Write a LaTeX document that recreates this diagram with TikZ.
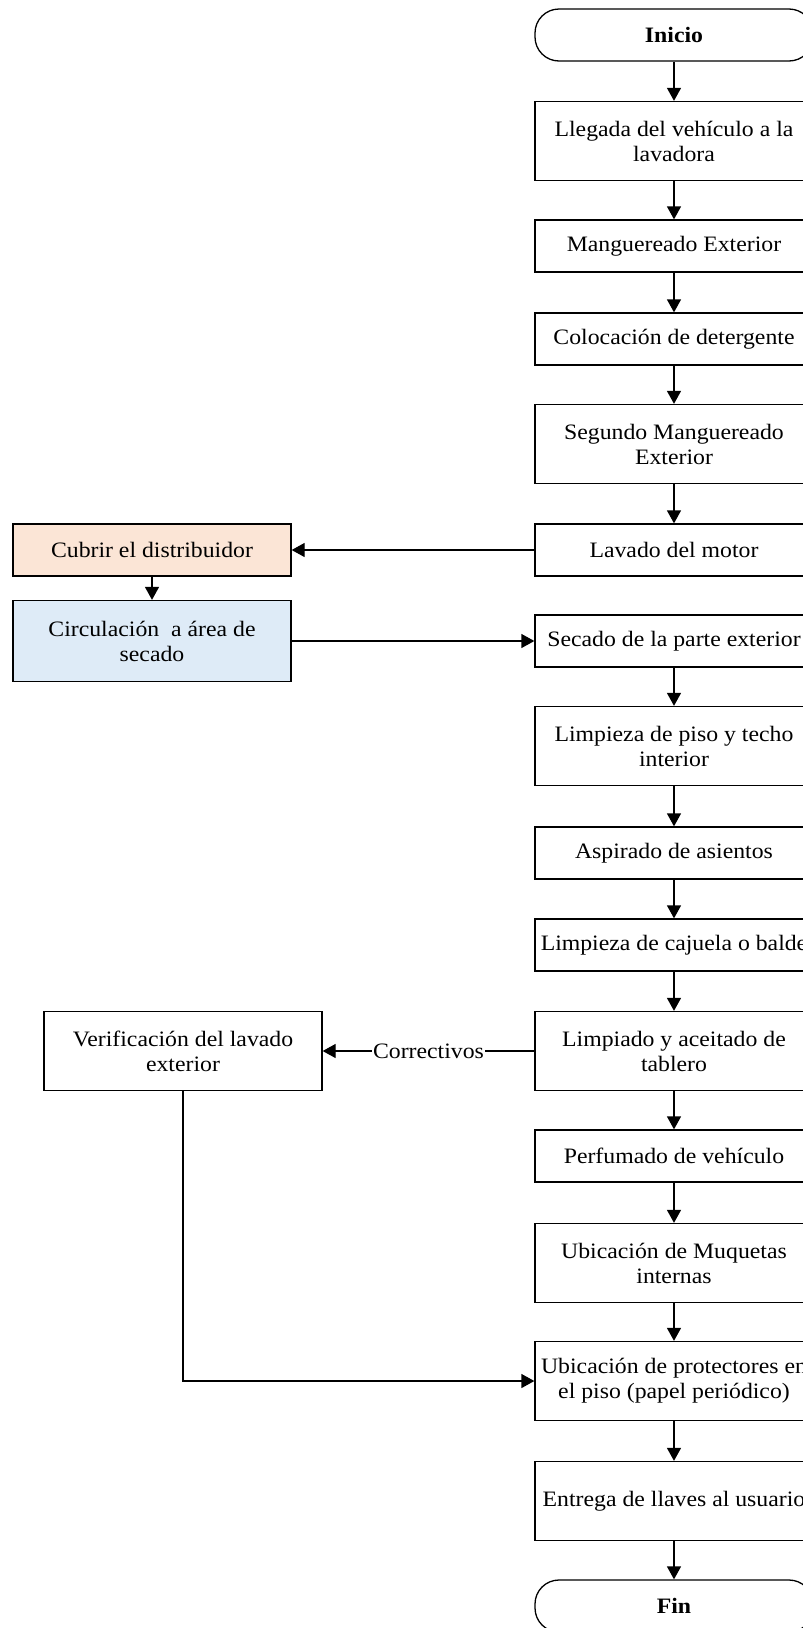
\documentclass[tikz,border=0pt]{standalone}
\usepackage{fontspec}
\setmainfont{Liberation Serif}[FakeStretch=1.08]
\usetikzlibrary{arrows.meta}

\definecolor{peach}{HTML}{FBE5D6}
\definecolor{paleblue}{HTML}{DEEBF7}

\begin{document}
\begin{tikzpicture}[x=1pt, y=-1pt,
    box/.style={draw, line width=1.3pt, minimum width=278pt, align=center,
        inner sep=2pt, font=\fontsize{22}{25}\selectfont},
    onebox/.style={box, minimum height=52pt},
    twobox/.style={box, minimum height=79pt},
    term/.style={onebox, rounded corners=24pt,
        font=\fontsize{22}{25}\selectfont\bfseries},
    flow/.style={line width=1.3pt, -{Triangle[length=13pt,width=14pt]}}]

    \useasboundingbox (0,0) rectangle (803,1628);
    \clip (0,0) rectangle (803,1628);

    % Main column
    \node[term] (inicio) at (674, 35) {Inicio};
    \node[twobox] (llegada) at (674, 141) {Llegada del vehículo a la\\lavadora};
    \node[onebox] (mang) at (674, 246) {Manguereado Exterior};
    \node[onebox] (deterg) at (674, 339) {Colocación de detergente};
    \node[twobox] (mang2) at (674, 444) {Segundo Manguereado\\Exterior};
    \node[onebox] (motor) at (674, 550) {Lavado del motor};
    \node[onebox] (secado) at (674, 641) {Secado de la parte exterior};
    \node[twobox] (piso) at (674, 746) {Limpieza de piso y techo\\interior};
    \node[onebox] (asientos) at (674, 853) {Aspirado de asientos};
    \node[onebox] (cajuela) at (674, 945) {Limpieza de cajuela o balde};
    \node[twobox] (tablero) at (674, 1051) {Limpiado y aceitado de\\tablero};
    \node[onebox] (perfume) at (674, 1156) {Perfumado de vehículo};
    \node[twobox] (muquetas) at (674, 1263) {Ubicación de Muquetas\\internas};
    \node[twobox] (protect) at (674, 1381) {Ubicación de protectores en\\el piso (papel periódico)};
    \node[twobox] (llaves) at (674, 1501) {Entrega de llaves al usuario};
    \node[term] (fin) at (674, 1606) {Fin};

    % Side column
    \node[onebox, fill=peach] (cubrir) at (152, 550) {Cubrir el distribuidor};
    \node[twobox, minimum height=81pt, fill=paleblue] (circula) at (152, 641) {Circulación\ \ a área de\\secado};
    \node[twobox] (verif) at (183, 1051) {Verificación del lavado\\exterior};

    % Main flow
    \draw[flow] (inicio) -- (llegada);
    \draw[flow] (llegada) -- (mang);
    \draw[flow] (mang) -- (deterg);
    \draw[flow] (deterg) -- (mang2);
    \draw[flow] (mang2) -- (motor);
    \draw[flow] (secado) -- (piso);
    \draw[flow] (piso) -- (asientos);
    \draw[flow] (asientos) -- (cajuela);
    \draw[flow] (cajuela) -- (tablero);
    \draw[flow] (tablero) -- (perfume);
    \draw[flow] (perfume) -- (muquetas);
    \draw[flow] (muquetas) -- (protect);
    \draw[flow] (protect) -- (llaves);
    \draw[flow] (llaves) -- (fin);

    % Detours
    \draw[flow] (motor) -- (cubrir);
    \draw[flow] (cubrir) -- (circula);
    \draw[flow] (circula) -- (secado);
    \draw[flow] (tablero) -- node[fill=white, inner sep=1pt, font=\fontsize{22}{25}\selectfont] {Correctivos} (verif);
    \draw[flow] (verif.south) |- (protect.west);

\end{tikzpicture}
\end{document}
